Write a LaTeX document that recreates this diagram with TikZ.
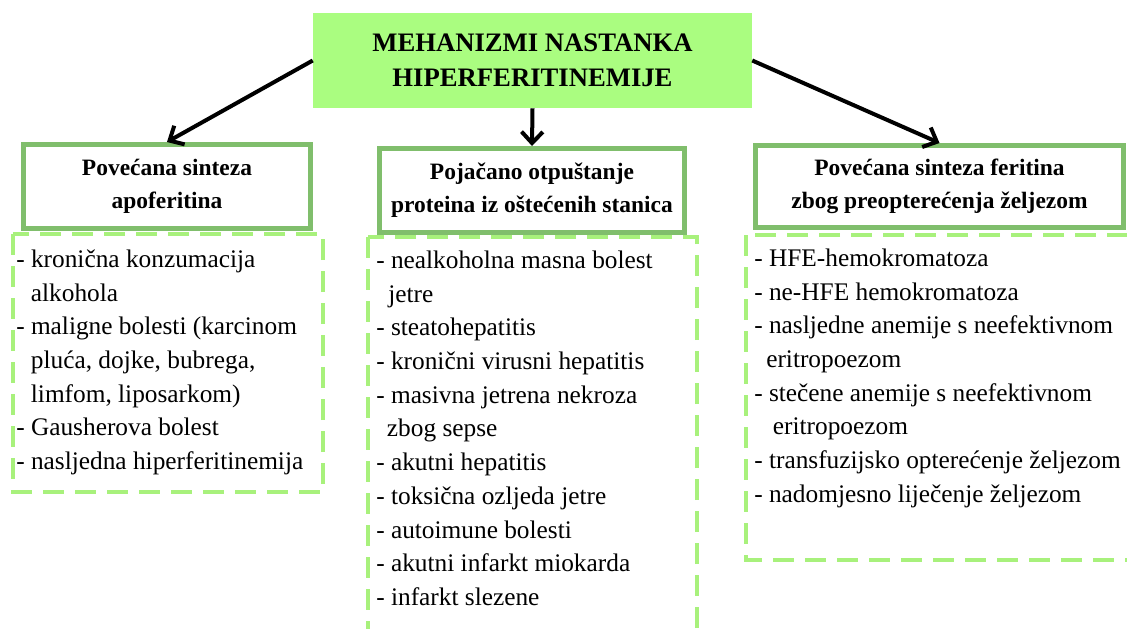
\documentclass[tikz,border=0pt]{standalone}
\usepackage{fontspec}
\setmainfont{Liberation Serif}
\usetikzlibrary{arrows.meta}
\definecolor{titlegreen}{HTML}{AAFD80}
\definecolor{framegreen}{HTML}{80BE6C}
\definecolor{dashgreen}{HTML}{A8F17C}
\begin{document}
\begin{tikzpicture}[x=0.75pt, y=-0.75pt,
	head/.style={draw=framegreen, line width=3.75pt, fill=white, align=center, inner sep=0pt, font=\bfseries\fontsize{17.6}{25}\selectfont},
	listbox/.style={draw=dashgreen, line width=3.6pt, dash pattern=on 15.75pt off 8.25pt},
	item/.style={anchor=north west, inner sep=0pt, align=left, font=\fontsize{19}{25.3}\selectfont},
	link/.style={line width=3pt, -{Straight Barb[length=8.5pt,width=16pt]}}]
	\useasboundingbox (0,0) rectangle (1127,628);
	\clip (0,0) rectangle (1127,628);
	\draw[listbox] (13,234) rectangle (323,492);
	\draw[listbox] (368,237) rectangle (697,700);
	\draw[listbox] (746,235) rectangle (1140,560);
	\node[fill=titlegreen, minimum width=329.25pt, minimum height=71.25pt, inner sep=0pt, align=center, font=\bfseries\fontsize{20}{26}\selectfont] (title) at (532.5, 60.5) {MEHANIZMI NASTANKA\\HIPERFERITINEMIJE};
	\node[head, minimum width=215.25pt, minimum height=63pt] (hApo) at (167, 186.5) {Povećana sinteza\\apoferitina};
	\node[head, minimum width=228.75pt, minimum height=63pt] (hRel) at (532, 190.5) {Pojačano otpuštanje\\proteina iz oštećenih stanica};
	\node[head, minimum width=276pt, minimum height=61.5pt] (hIron) at (939.5, 186.5) {Povećana sinteza feritina\\zbog preopterećenja željezom};
	\draw[link] (title.west) -- (hApo.north);
	\draw[link] (title.south) -- (hRel.north);
	\draw[link] (title.east) -- (hIron.north);
	\node[item] (lApo) at (16, 243.4) {\strut- kronična konzumacija\\\hspace*{11pt}alkohola\\- maligne bolesti (karcinom\\\hspace*{11pt}pluća, dojke, bubrega,\\\hspace*{11pt}limfom, liposarkom)\\- Gausherova bolest\\- nasljedna hiperferitinemija};
	\node[item] (lRel) at (376, 244.4) {\strut- nealkoholna masna bolest\\\hspace*{9pt}jetre\\- steatohepatitis\\- kronični virusni hepatitis\\- masivna jetrena nekroza\\\hspace*{8pt}zbog sepse\\- akutni hepatitis\\- toksična ozljeda jetre\\- autoimune bolesti\\- akutni infarkt miokarda\\- infarkt slezene};
	\node[item] (lIron) at (754, 242.4) {\strut- HFE-hemokromatoza\\- ne-HFE hemokromatoza\\- nasljedne anemije s neefektivnom\\\hspace*{9pt}eritropoezom\\- stečene anemije s neefektivnom\\\hspace*{14pt}eritropoezom\\- transfuzijsko opterećenje željezom\\- nadomjesno liječenje željezom};
\end{tikzpicture}
\end{document}
